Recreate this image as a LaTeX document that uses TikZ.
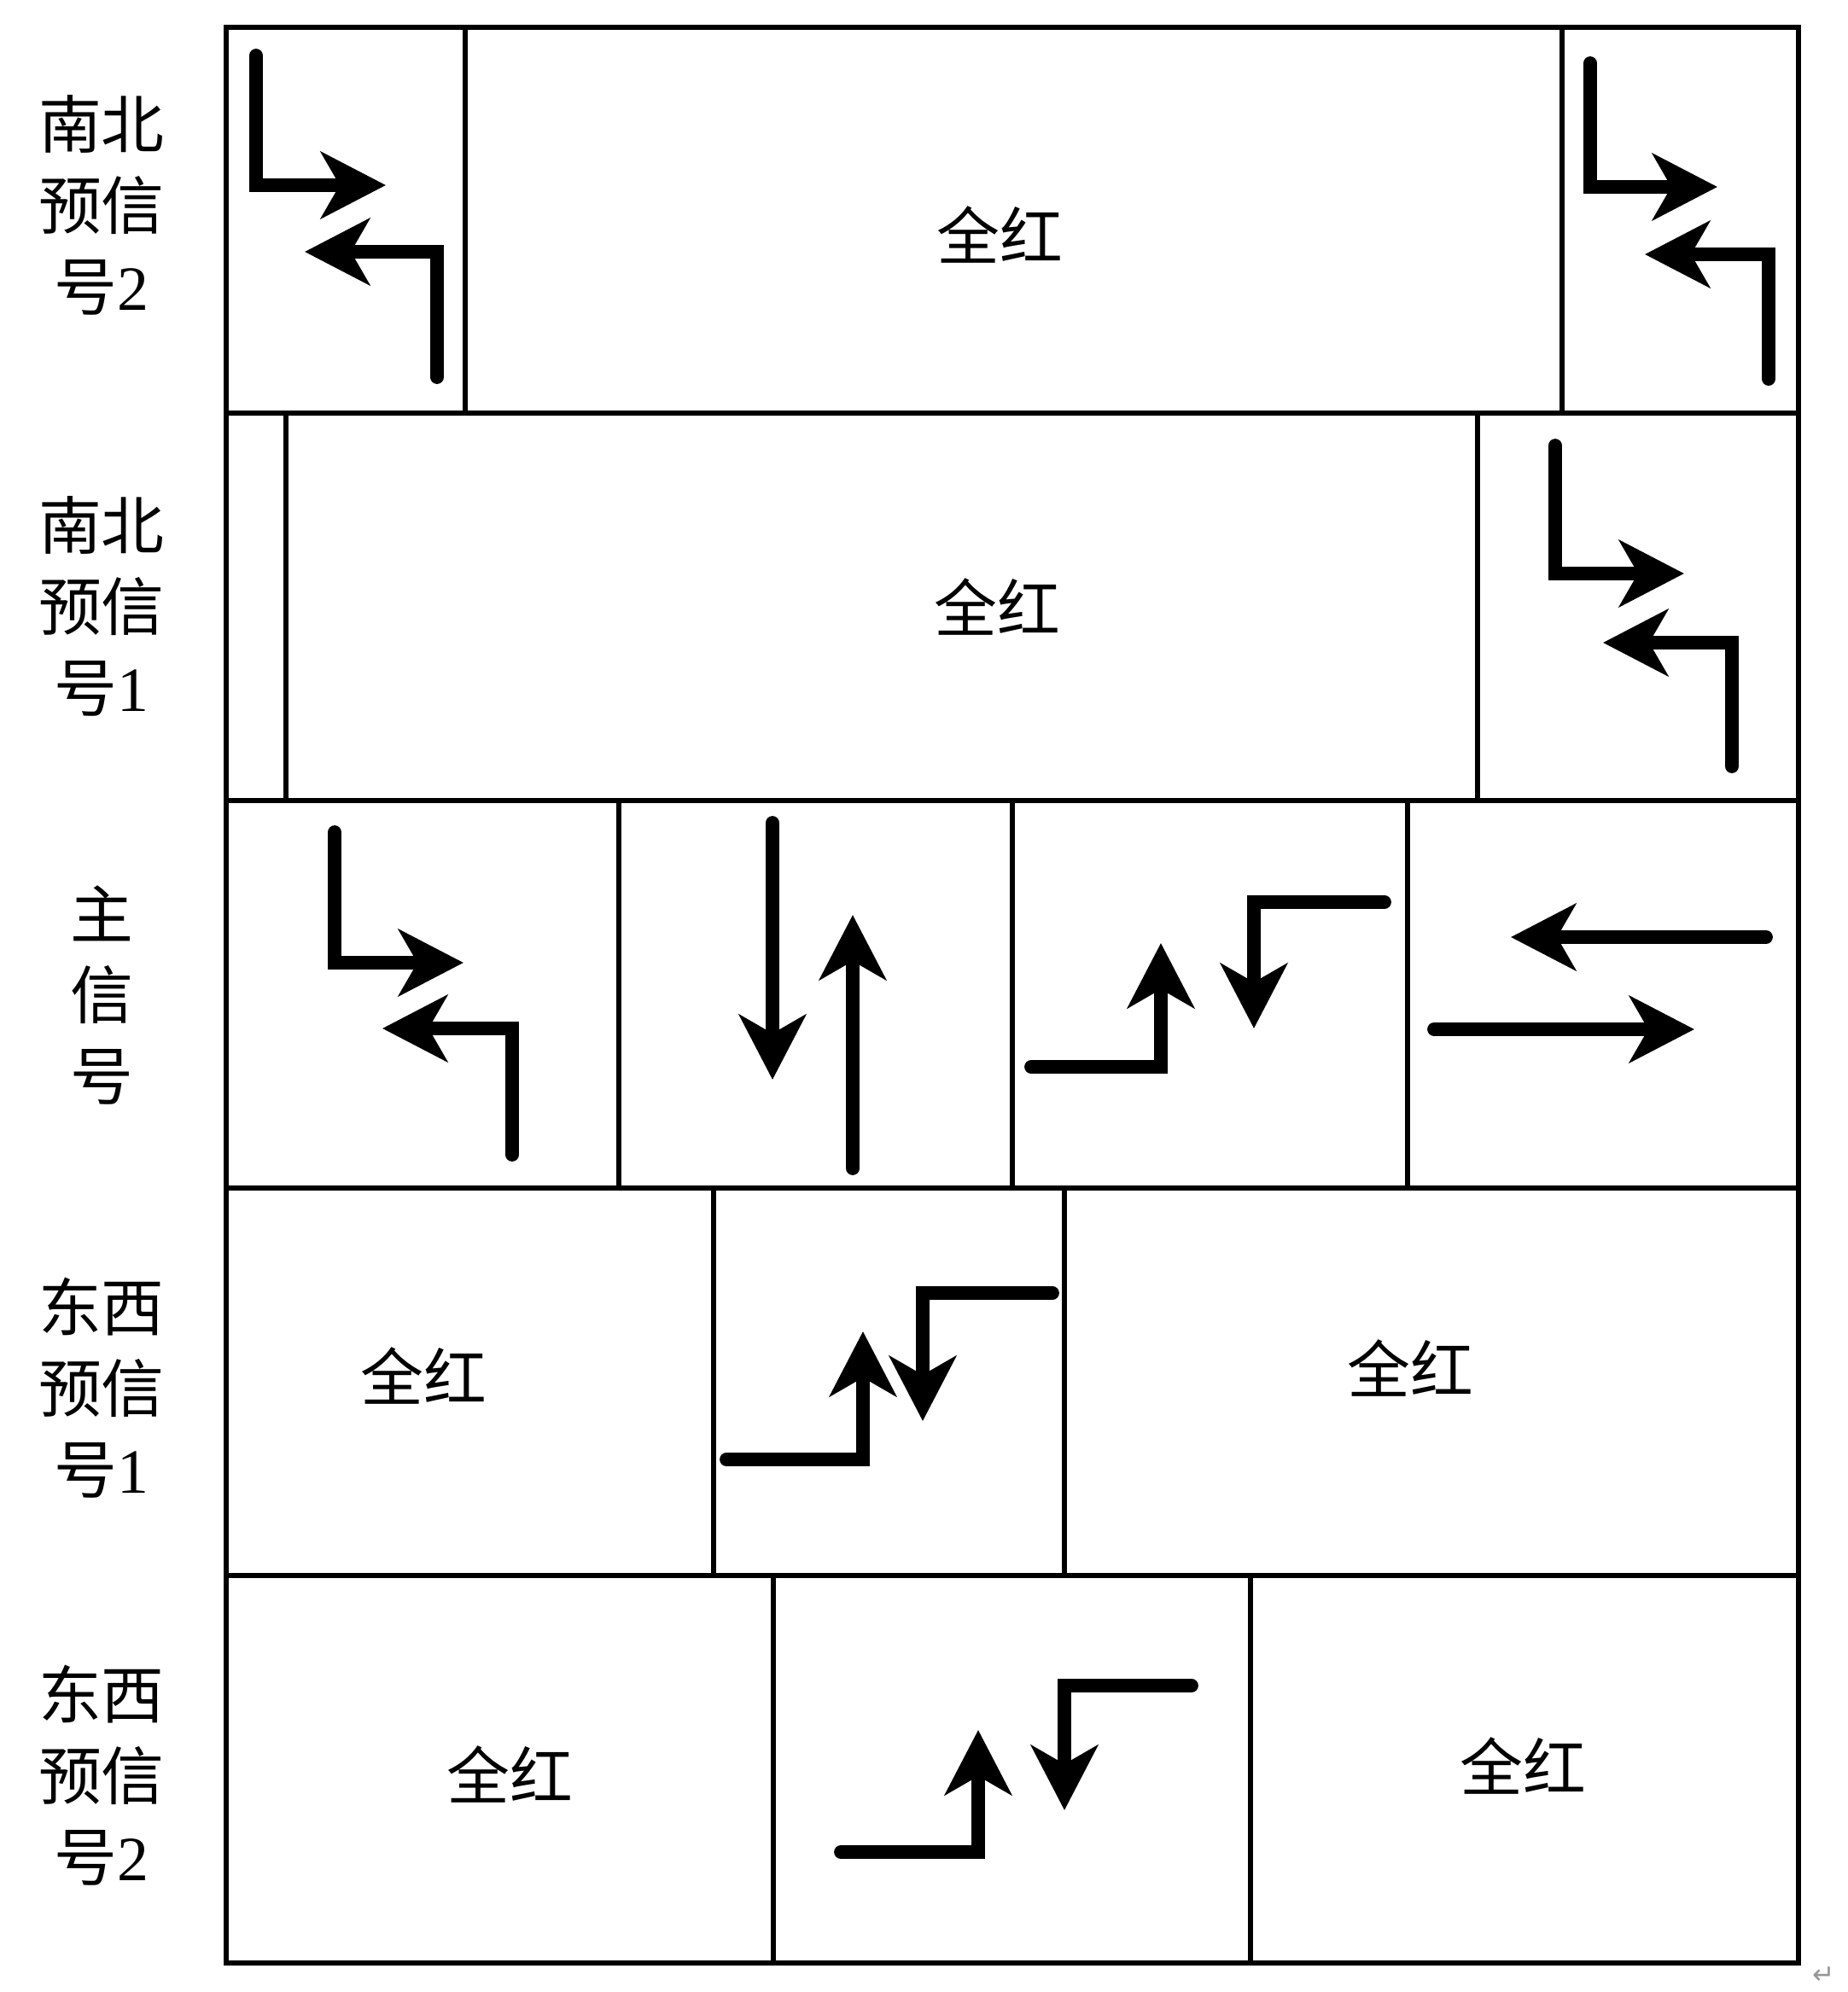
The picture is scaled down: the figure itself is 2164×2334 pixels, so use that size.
\documentclass[tikz,border=0pt]{standalone}
\usepackage{fontspec}
\setmainfont{Liberation Serif}
\newfontfamily\cjk{Noto Sans CJK SC}
\newfontfamily\marksym{DejaVu Sans}
\usetikzlibrary{arrows.meta}
\definecolor{markgray}{RGB}{150, 150, 150}
\tikzstyle{cell} = [line width=1.8pt, black]
\tikzstyle{flow} = [line width=4.5pt, line cap=round, -{Stealth[length=7.6mm, width=7.8mm, inset=2.2mm]}]
\tikzstyle{rowlabel} = [align=center, inner sep=0pt, font=\fontsize{21}{27}\selectfont]
\tikzstyle{allred} = [inner sep=0pt, font=\cjk\fontsize{21}{27}\selectfont]

\begin{document}
\begin{tikzpicture}[x=0.01cm, y=-0.01cm]
\useasboundingbox (0,0) rectangle (2164,2334);

% Grid of phases
\draw[cell] (265,32) rectangle (2107,2300);
\foreach \y in {484,938,1392,1846}
    \draw[cell] (265,\y) -- (2107,\y);
\foreach \x/\ya/\yb in {545/32/484, 1830/32/484,
                        335/484/938, 1731/484/938,
                        725/938/1392, 1186/938/1392, 1649/938/1392,
                        836/1392/1846, 1247/1392/1846,
                        906/1846/2300, 1465/1846/2300}
    \draw[cell] (\x,\ya) -- (\x,\yb);

% Row labels
\node[rowlabel] (nsTwo) at (119,240) {{\cjk 南北}\\{\cjk 预信}\\{\cjk 号}2};
\node[rowlabel] (nsOne) at (119,710) {{\cjk 南北}\\{\cjk 预信}\\{\cjk 号}1};
\node[rowlabel] (mainSig) at (119,1166) {{\cjk 主}\\{\cjk 信}\\{\cjk 号}};
\node[rowlabel] (ewOne) at (119,1626) {{\cjk 东西}\\{\cjk 预信}\\{\cjk 号}1};
\node[rowlabel] (ewTwo) at (119,2080) {{\cjk 东西}\\{\cjk 预信}\\{\cjk 号}2};

% All-red intervals
\node[allred] (redA) at (1171,275) {全红};
\node[allred] (redB) at (1168,711) {全红};
\node[allred] (redC) at (496,1612) {全红};
\node[allred] (redD) at (1652,1603) {全红};
\node[allred] (redE) at (597,2079) {全红};
\node[allred] (redF) at (1784,2069) {全红};

% North-south pre-signal 2
\draw[flow] (300,65) -- (300,217) -- (452,217);
\draw[flow] (512,442) -- (512,295) -- (357,295);
\draw[flow] (1863,74) -- (1863,219) -- (2012,219);
\draw[flow] (2072,444) -- (2072,298) -- (1927,298);

% North-south pre-signal 1
\draw[flow] (1822,522) -- (1822,672) -- (1973,672);
\draw[flow] (2029,898) -- (2029,753) -- (1878,753);

% Main signal
\draw[flow] (392,975) -- (392,1128) -- (543,1128);
\draw[flow] (600,1353) -- (600,1205) -- (448,1205);
\draw[flow] (905,964) -- (905,1265);
\draw[flow] (999,1369) -- (999,1072);
\draw[flow] (1208,1250) -- (1360,1250) -- (1360,1105);
\draw[flow] (1622,1057) -- (1469,1057) -- (1469,1205);
\draw[flow] (2069,1098) -- (1770,1098);
\draw[flow] (1680,1206) -- (1985,1206);

% East-west pre-signal 1
\draw[flow] (851,1710) -- (1011,1710) -- (1011,1560);
\draw[flow] (1233,1515) -- (1081,1515) -- (1081,1665);

% East-west pre-signal 2
\draw[flow] (985,2170) -- (1146,2170) -- (1146,2027);
\draw[flow] (1396,1975) -- (1247,1975) -- (1247,2121);

\node[markgray, inner sep=0pt, font=\marksym\fontsize{9}{9}\selectfont] (paraMark) at (2137,2315) {↵};
\end{tikzpicture}
\end{document}
